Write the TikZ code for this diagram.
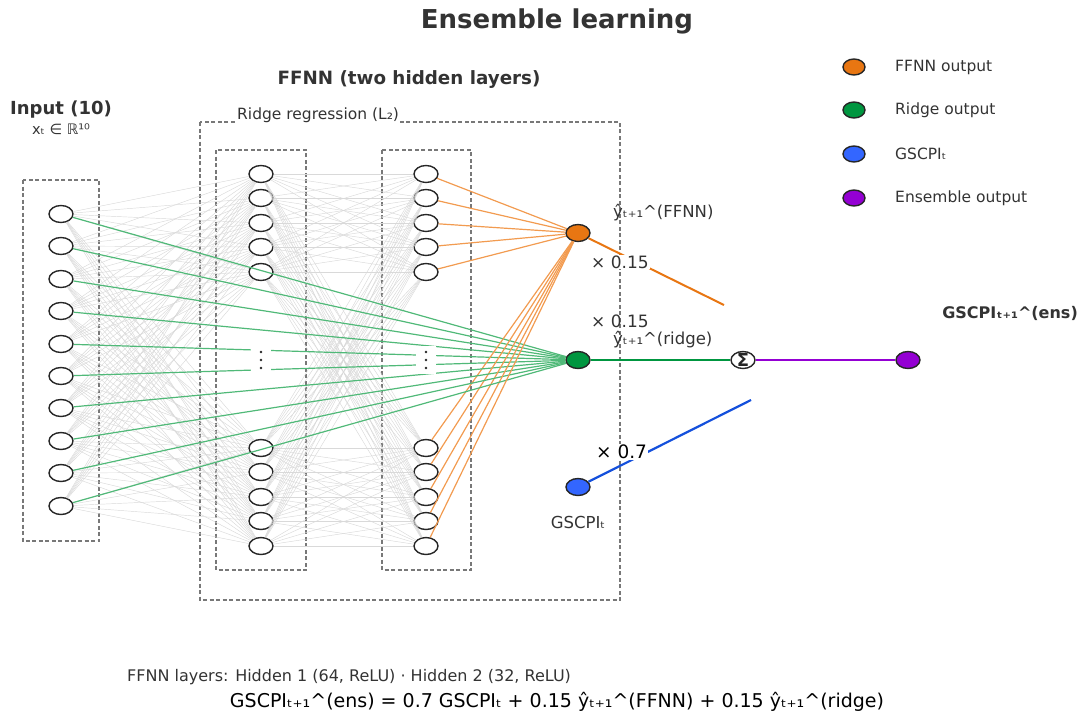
\documentclass[tikz,border=0pt]{standalone}
\usepackage{fontspec}
\setmainfont{DejaVu Sans}
\usetikzlibrary{shapes.geometric}
\definecolor{txt}{HTML}{333333}
\definecolor{cffnn}{RGB}{232,118,18}
\definecolor{cridge}{RGB}{0,150,64}
\definecolor{cgscpi}{RGB}{51,102,255}
\definecolor{cens}{RGB}{148,0,211}
\definecolor{lffnn}{RGB}{242,155,80}
\definecolor{lridge}{RGB}{80,185,120}
\definecolor{lblue}{RGB}{20,80,220}
\definecolor{boxgray}{RGB}{120,120,120}
\begin{document}
\begin{tikzpicture}[x=1pt,y=-1pt,
  neuron/.style={ellipse,draw=black!85,line width=1.4pt,fill=white,minimum width=24pt,minimum height=17pt,inner sep=0pt},
  outnode/.style={neuron},
  gline/.style={draw=black!15,line width=0.45pt},
  grline/.style={draw=lridge,line width=1.2pt},
  orline/.style={draw=lffnn,line width=1.2pt},
  dbox/.style={draw=boxgray,line width=1.1pt,dash pattern=on 4pt off 2.5pt},
  lbl/.style={text=txt,inner sep=1pt,font=\fontsize{12}{14}\selectfont},
  wlbl/.style={lbl,fill=white},
  legtxt/.style={lbl,anchor=west,font=\fontsize{15.5}{17}\selectfont},
]
\useasboundingbox (0,0) rectangle (1080,713);
% boxes
\draw[dbox] (23,180) rectangle (99,541);
\draw[dbox] (200,122) rectangle (620,600);
\draw[dbox] (216,150) rectangle (306,570);
\draw[dbox] (382,150) rectangle (471,570);
\node[wlbl,anchor=west,font=\fontsize{15.5}{17}\selectfont] (ridgelbl) at (236,115) {Ridge regression (L₂)};
% titles
\node[text=txt,font=\bfseries\fontsize{26}{28}\selectfont] (title) at (557,21) {Ensemble learning};
\node[text=txt,font=\bfseries\fontsize{18.3}{20}\selectfont] (ffnntitle) at (409,80) {FFNN (two hidden layers)};
\node[text=txt,font=\bfseries\fontsize{18}{20}\selectfont] (inputtitle) at (61,110) {Input (10)};
\node[text=txt,font=\fontsize{14.5}{16}\selectfont] (xt) at (61,129) {xₜ ∈ ℝ¹⁰};
% neurons
\foreach \i/\y in {1/214,2/246,3/279,4/311,5/344,6/376,7/408,8/441,9/473,10/506}
  \node[neuron] (in\i) at (61,\y) {};
\foreach \i/\y in {1/174,2/198,3/223,4/247,5/272,6/448,7/472,8/497,9/521,10/546}{
  \node[neuron] (ha\i) at (261,\y) {};
  \node[neuron] (hb\i) at (426,\y) {};
}
% output nodes
\node[outnode,fill=cffnn] (ffnn) at (578,233) {};
\node[outnode,fill=cridge] (ridge) at (578,360) {};
\node[outnode,fill=cgscpi] (gscpi) at (578,487) {};
\node[outnode,fill=white,label={[inner sep=0pt,font=\bfseries\fontsize{18}{18}\selectfont,text=black!85]center:Σ}] (sum) at (743,360) {};
\node[outnode,fill=cens] (ens) at (908,360) {};
% dense gray connections
\foreach \i in {1,...,10}{
  \foreach \j in {1,...,10}{
    \draw[gline] (in\i) -- (ha\j);
    \draw[gline] (ha\i) -- (hb\j);
  }
}
% ridge and ffnn connections
\foreach \i in {1,...,10}{
  \draw[grline] (in\i) -- (ridge);
  \draw[orline] (hb\i) -- (ffnn);
}
% vertical ellipses
\foreach \x/\n in {261/da,426/db}{
  \node[fill=white,minimum width=20pt,minimum height=28pt,inner sep=0pt] (\n) at (\x,360) {};
  \foreach \yy in {352,360,368} \fill[black!85] (\x,\yy) circle (1.4pt);
}
% combination lines
\coordinate (fend) at (724,305);
\coordinate (bend) at (751,400);
\draw[draw=cffnn,line width=2pt] (ffnn) -- (fend);
\draw[draw=cridge,line width=2pt] (ridge) -- (sum);
\draw[draw=lblue,line width=2.2pt] (gscpi) -- (bend);
\draw[draw=cens,line width=1.5pt] (sum) -- (ens);
% labels
\node[lbl,anchor=west,font=\fontsize{16.5}{18}\selectfont] (lffnnlbl) at (612,213) {ŷₜ₊₁\textasciicircum(FFNN)};
\node[wlbl,anchor=west,font=\fontsize{17}{19}\selectfont] (w1) at (590,262) {× 0.15};
\node[lbl,anchor=west,font=\fontsize{17}{19}\selectfont] (w2) at (590,321) {× 0.15};
\node[lbl,anchor=west,font=\fontsize{16.5}{18}\selectfont] (lridgelbl) at (612,340) {ŷₜ₊₁\textasciicircum(ridge)};
\node[wlbl,anchor=west,text=black,font=\fontsize{18.5}{20}\selectfont] (w3) at (595,452) {× 0.7};
\node[lbl,font=\fontsize{16.5}{18}\selectfont] (gscpilbl) at (578,522) {GSCPIₜ};
\node[lbl,anchor=east,font=\bfseries\fontsize{16}{18}\selectfont] (enslbl) at (1079,313) {GSCPIₜ₊₁\textasciicircum(ens)};
% legend
\foreach \n/\y/\c/\t in {1/67/cffnn/FFNN output,2/110/cridge/Ridge output,3/154/cgscpi/GSCPIₜ,4/198/cens/Ensemble output}{
  \node[outnode,fill=\c,minimum width=22pt,minimum height=16pt] (lg\n) at (854,\y) {};
  \node[legtxt] (lgt\n) at (894,\y) {\t};
}
% bottom texts
\node[lbl,anchor=west,font=\fontsize{16}{18}\selectfont] (layers) at (126,677) {FFNN layers: Hidden 1 (64, ReLU) · Hidden 2 (32, ReLU)};
\node[text=black,font=\fontsize{19}{21}\selectfont] (formula) at (557,702) {GSCPIₜ₊₁\textasciicircum(ens) = 0.7 GSCPIₜ + 0.15 ŷₜ₊₁\textasciicircum(FFNN) + 0.15 ŷₜ₊₁\textasciicircum(ridge)};
\end{tikzpicture}
\end{document}
